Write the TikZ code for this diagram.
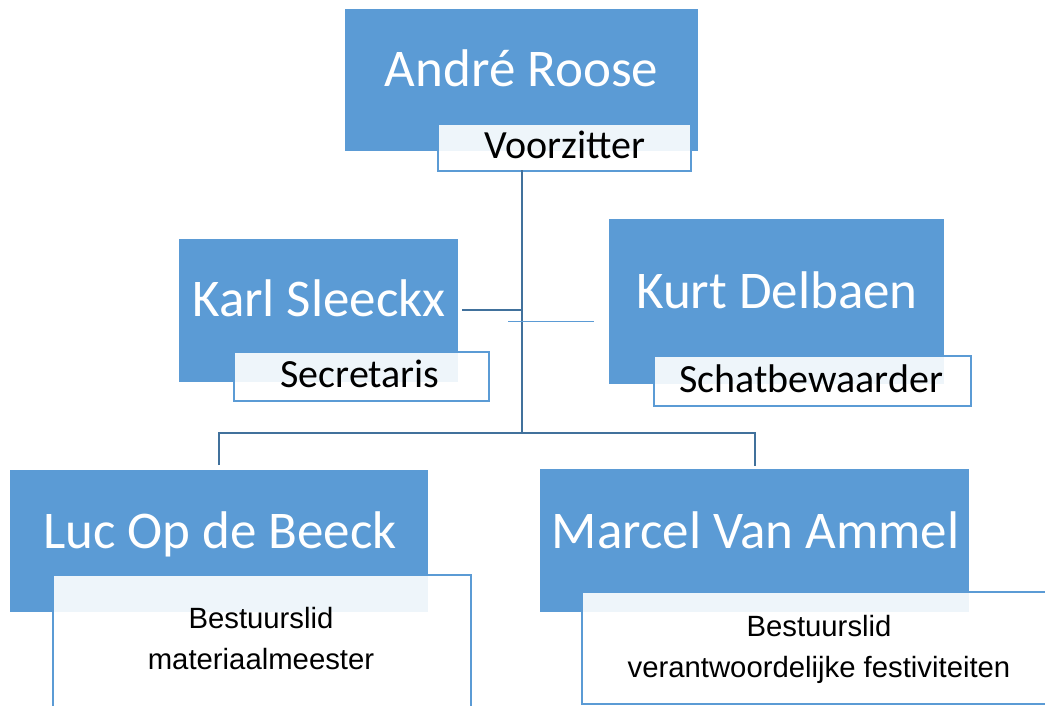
\documentclass[tikz,border=0pt]{standalone}
\usepackage{fontspec}
\setmainfont{Carlito}
\newfontfamily\arialf{Liberation Sans}
\definecolor{boxblue}{HTML}{5B9BD5}
\definecolor{linkblue}{HTML}{41719C}
\begin{document}
\begin{tikzpicture}[x=1pt,y=-1pt,
  namebox/.style={draw=none,fill=boxblue,inner sep=0pt},
  roletag/.style={draw=boxblue,line width=1.6pt,fill=white,fill opacity=0.9,text opacity=1,inner sep=0pt},
  nametext/.style={text=white,font=\fontsize{53}{60}\selectfont,inner sep=0pt},
  roletext/.style={text=black,font=\fontsize{40}{44}\selectfont,inner sep=0pt},
  desctext/.style={text=black,font=\arialf\fontsize{29.3}{41}\selectfont,inner sep=0pt,align=center},
  link/.style={draw=linkblue,line width=2.2pt},
  thinlink/.style={draw=boxblue,line width=1pt}]
\useasboundingbox (0,0) rectangle (1045,705);
\clip (0,0) rectangle (1045,705);
% boxes
\path[namebox] (345,9) rectangle (698,151);
\path[namebox] (179,239) rectangle (458,382);
\path[namebox] (609,219) rectangle (944,384);
\path[namebox] (10,470) rectangle (428,612);
\path[namebox] (540,469) rectangle (969,612);
% names
\node[nametext,anchor=base] (arn) at (521.5,86) {André Roose};
\node[nametext,anchor=base] (ksn) at (319,316) {Karl Sleeckx};
\node[nametext,anchor=base] (kdn) at (777,308) {Kurt Delbaen};
\node[nametext,anchor=base] (lbn) at (220,548) {Luc Op de Beeck};
\node[nametext,anchor=base] (mvn) at (755.5,548) {Marcel Van Ammel};
% role tags
\node[roletag,anchor=north west,minimum width=253pt,minimum height=47pt] (vz) at (437,123) {};
\node[roletext,anchor=base] at (565,158) {Voorzitter};
\node[roletag,anchor=north west,minimum width=255pt,minimum height=49pt] (sc) at (233,351) {};
\node[roletext,anchor=base] at (360,387) {Secretaris};
\node[roletag,anchor=north west,minimum width=317pt,minimum height=50pt] (sb) at (653,355) {};
\node[roletext,anchor=base] at (811,392) {Schatbewaarder};
\node[roletag,anchor=north west,minimum width=418pt,minimum height=160pt] (lbt) at (52,574) {};
\node[desctext,anchor=north] at (261,607) {Bestuurslid\\materiaalmeester};
\node[roletag,anchor=north west,minimum width=480pt,minimum height=112pt] (mvt) at (581,591) {};
\node[desctext,anchor=north] at (819,615) {Bestuurslid\\verantwoordelijke festiviteiten};
% connectors
\coordinate (top) at (522,170);
\coordinate (mid) at (522,433);
\coordinate (ksj) at (522,310);
\coordinate (lj) at (219,433);
\coordinate (rj) at (755,433);
\coordinate (st1) at (508,321);
\coordinate (st2) at (594,321);
\draw[link] (top) -- (mid);
\draw[link] (ksj) -- (462,310);
\draw[thinlink] (st1) -- (st2);
\draw[link] (lj |- 0,465) -- (lj) -- (rj) -- (rj |- 0,466);
\end{tikzpicture}
\end{document}
